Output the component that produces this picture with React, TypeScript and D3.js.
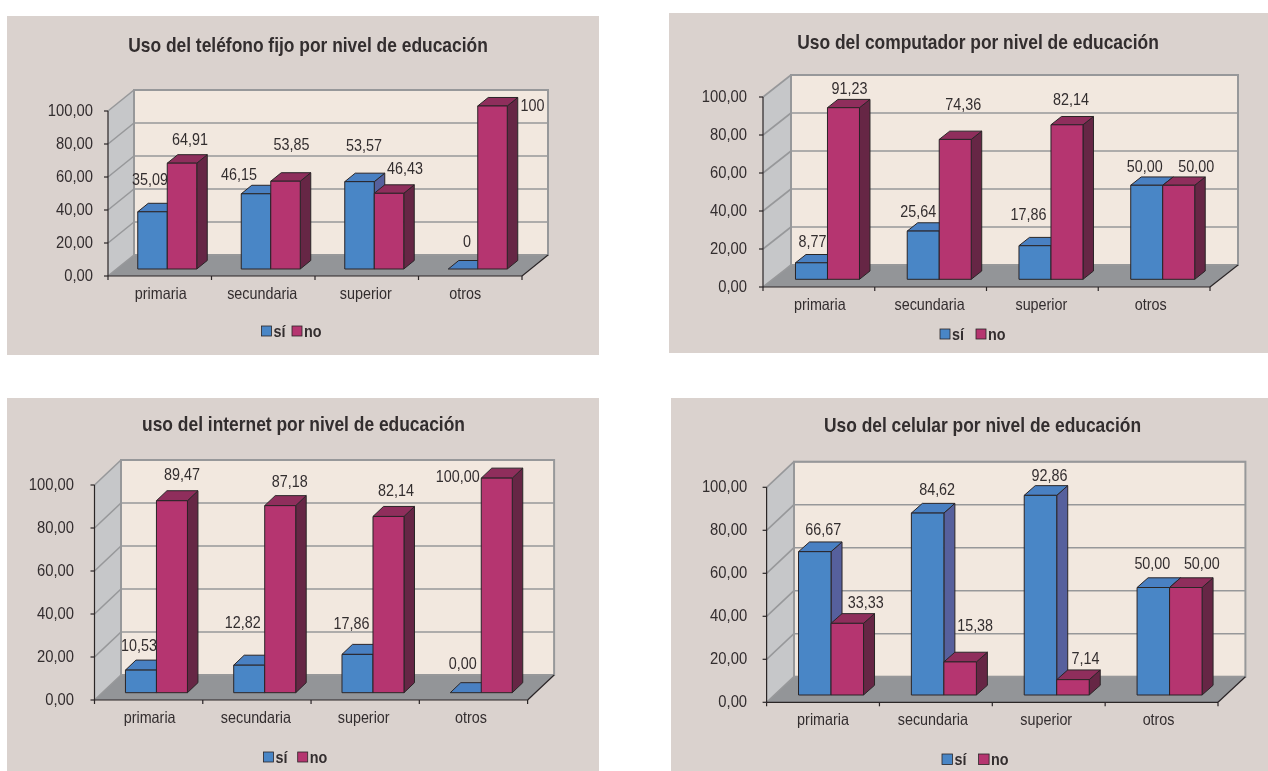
import React from "react";
import * as d3 from "d3";

const categories = ["primaria", "secundaria", "superior", "otros"];
const tickValues = [0, 20, 40, 60, 80, 100];

const telefonoSi = [35.09, 46.15, 53.57, 0];
const telefonoNo = [64.91, 53.85, 46.43, 100];
const computadorSi = [8.77, 25.64, 17.86, 50];
const computadorNo = [91.23, 74.36, 82.14, 50];
const internetSi = [10.53, 12.82, 17.86, 0];
const internetNo = [89.47, 87.18, 82.14, 100];
const celularSi = [66.67, 84.62, 92.86, 50];
const celularNo = [33.33, 15.38, 7.14, 50];

const telefonoNoLabels = ["64,91", "53,85", "46,43", "100"];
const telefonoSiLabels = ["35,09", "46,15", "53,57", "0"];
const fmt = (v: number) => d3.format(".2f")(v).replace(".", ",");

const C = {
  bg: "#dad2ce", wall: "#f2e8df", side: "#c6c7c9", floor: "#939598", grid: "#97989a",
  ink: "#2a2527", text: "#332d2f",
  blue: "#4a86c6", blueTop: "#4a80c2", blueSide: "#56619d",
  mag: "#b53470", magTop: "#8f2f5c", magSide: "#662745",
};

// layout of each panel
const panels = [
  {
    title: "Uso del teléfono fijo por nivel de educación", titleX: 308, titleY: 45,
    si: telefonoSi, no: telefonoNo, siLabels: telefonoSiLabels, noLabels: telefonoNoLabels,
    bg: [7, 16, 599, 355], left: 108, right: 522, y0: 276, y100: 111, depthX: 26, depthY: 21,
    offX: 7.5, offY: 7, barW: 29.5, topX: 10.5, topY: 8.5, barK: 0.988, tickGap: 15,
    catDx: [1, -1, -1, -5],
    siNudge: [[-2.5, -32], [-17, -19], [4.5, -35.6], [4, -28]],
    noNudge: [[8, -23], [6, -36], [16, -24], [40, 1]],
    legend: [261.5, 292, 326, 10],
  },
  {
    title: "Uso del computador por nivel de educación", titleX: 978, titleY: 42,
    si: computadorSi, no: computadorNo, siLabels: computadorSi.map(fmt), noLabels: computadorNo.map(fmt),
    bg: [669, 13, 1268, 353], left: 763, right: 1210, y0: 287, y100: 97, depthX: 28, depthY: 22,
    offX: 8.6, offY: 7.7, barW: 32, topX: 10.5, topY: 8.3, barK: 0.99, tickGap: 16,
    catDx: [1, -1, -1, -3.5],
    siNudge: [[1, -21.6], [-5, -19.6], [-6.5, -31], [-2, -18]],
    noNudge: [[6, -18], [8, -34], [4, -24], [17.5, -18]],
    legend: [940, 976, 329, 10],
  },
  {
    title: "uso del internet por nivel de educación", titleX: 303.5, titleY: 424,
    si: internetSi, no: internetNo, siLabels: internetSi.map(fmt), noLabels: internetNo.map(fmt),
    bg: [7, 398, 599, 771], left: 94.5, right: 527.6, y0: 700, y100: 485, depthX: 26.5, depthY: 25,
    offX: 7.8, offY: 7.3, barW: 31, topX: 10.5, topY: 10, barK: 0.998, tickGap: 20.5,
    catDx: [1, -1, -1.5, -2.5],
    siNudge: [[-2, -25], [-6.5, -43], [-6, -31], [-3, -30]],
    noNudge: [[10, -26], [9.5, -24], [7.5, -26], [-39, -2]],
    legend: [263.4, 297.7, 752, 10],
  },
  {
    title: "Uso del celular por nivel de educación", titleX: 982.5, titleY: 425,
    si: celularSi, no: celularNo, siLabels: celularSi.map(fmt), noLabels: celularNo.map(fmt),
    bg: [671, 398, 1268, 771], left: 766.6, right: 1218, y0: 702.3, y100: 487.3, depthX: 27.4, depthY: 25.6,
    offX: 8, offY: 7.3, barW: 32.5, topX: 11, topY: 9.7, barK: 1, tickGap: 19.5,
    catDx: [0, -3, -2.5, -3],
    siNudge: [[8.5, -23], [9.5, -24], [9, -20], [-1, -24.5]],
    noNudge: [[18.4, -21], [15, -37], [12.6, -22], [16, -24.5]],
    legend: [942, 978.6, 754, 10.5],
  },
];

const font = "'Liberation Sans', Arial, sans-serif";
const pts = (a: number[][]) => a.map((p) => p.join(",")).join(" ");

// the reference's type is slightly condensed
function T({ x, y, size, anchor = "middle", bold = false, sx = 0.87, children }: any) {
  return (
    <text
      transform={`translate(${x},${y}) scale(${sx},1)`}
      textAnchor={anchor}
      dominantBaseline="central"
      fontSize={size}
      fontWeight={bold ? "bold" : "normal"}
    >
      {children}
    </text>
  );
}

function Bar({ x, w, top, base, tx, ty, front, topC, sideC }: any) {
  return (
    <g stroke={C.ink} strokeWidth={1} strokeLinejoin="round">
      {top < base && (
        <polygon points={pts([[x + w, top], [x + w + tx, top - ty], [x + w + tx, base - ty], [x + w, base]])} fill={sideC} />
      )}
      <polygon points={pts([[x, top], [x + tx, top - ty], [x + w + tx, top - ty], [x + w, top]])} fill={topC} />
      {top < base && <rect x={x} y={top} width={w} height={base - top} fill={front} />}
    </g>
  );
}

function Panel({ p }: { p: (typeof panels)[number] }) {
  const y = d3.scaleLinear().domain([0, 100]).range([p.y0, p.y100]);
  const x = d3.scaleBand<string>().domain(categories).range([p.left, p.right]);
  const { left, right, y0, y100, depthX: dx, depthY: dy } = p;
  const [bx0, by0, bx1, by1] = p.bg;
  const [lx1, lx2, ly, ls] = p.legend;
  const edges = [...categories.map((c) => x(c)!), right];
  const centre = (c: string) => x(c)! + x.bandwidth() / 2;
  const barTop = (v: number) => y(0) - p.offY - (y(0) - y(v)) * p.barK;
  return (
    <g fontFamily={font} fill={C.text}>
      <rect x={bx0} y={by0} width={bx1 - bx0} height={by1 - by0} fill={C.bg} />
      <T x={p.titleX} y={p.titleY} size={19.5} bold sx={0.893}>{p.title}</T>
      {/* walls and floor */}
      <rect x={left + dx} y={y100 - dy} width={right - left} height={y0 - y100} fill={C.wall} />
      <polygon points={pts([[left, y0], [left, y100], [left + dx, y100 - dy], [left + dx, y0 - dy]])} fill={C.side} />
      <polygon points={pts([[left, y0], [right, y0], [right + dx, y0 - dy], [left + dx, y0 - dy]])} fill={C.floor} />
      {tickValues.map((t) => (
        <g key={t} stroke={C.grid} strokeWidth={1.6} fill="none">
          {t > 0 && <line x1={left} y1={y(t)} x2={left + dx} y2={y(t) - dy} />}
          {t > 0 && <line x1={left + dx} y1={y(t) - dy} x2={right + dx} y2={y(t) - dy} />}
        </g>
      ))}
      <rect x={left + dx} y={y100 - dy} width={right - left} height={y0 - y100} fill="none" stroke={C.grid} strokeWidth={2} />
      <line x1={left} y1={y0} x2={left + dx} y2={y0 - dy} stroke={C.grid} strokeWidth={1.6} />
      {/* axes */}
      <g stroke={C.ink} strokeWidth={1.2}>
        <line x1={left} y1={y100} x2={left} y2={y0} />
        <line x1={left} y1={y0} x2={right} y2={y0} />
        <line x1={right} y1={y0} x2={right + dx} y2={y0 - dy} />
        {tickValues.map((t) => (
          <line key={t} x1={left - 4} y1={y(t)} x2={left} y2={y(t)} />
        ))}
        {edges.map((e, i) => (
          <line key={i} x1={e} y1={y0} x2={e} y2={y0 + 4} />
        ))}
      </g>
      {tickValues.map((t) => (
        <T key={t} x={left - p.tickGap} y={y(t) - 1} size={17} anchor="end">{fmt(t)}</T>
      ))}
      {categories.map((c, i) => (
        <T key={c} x={centre(c) + p.catDx[i]} y={y0 + 17} size={16.5}>{c}</T>
      ))}
      {/* bars */}
      {categories.map((c, i) => {
        const mid = centre(c) + p.offX;
        const base = y(0) - p.offY;
        const common = { w: p.barW, base, tx: p.topX, ty: p.topY };
        return (
          <g key={c}>
            <Bar {...common} x={mid - p.barW} top={barTop(p.si[i])} front={C.blue} topC={C.blueTop} sideC={C.blueSide} />
            <Bar {...common} x={mid} top={barTop(p.no[i])} front={C.mag} topC={C.magTop} sideC={C.magSide} />
          </g>
        );
      })}
      {/* value labels */}
      {categories.map((c, i) => {
        const mid = centre(c) + p.offX;
        return (
          <g key={c}>
            <T x={mid - p.barW / 2 + p.siNudge[i][0]} y={y(p.si[i]) - p.offY + p.siNudge[i][1]} size={16.5}>{p.siLabels[i]}</T>
            <T x={mid + p.barW / 2 + p.noNudge[i][0]} y={y(p.no[i]) - p.offY + p.noNudge[i][1]} size={16.5}>{p.noLabels[i]}</T>
          </g>
        );
      })}
      {/* legend */}
      <rect x={lx1} y={ly} width={ls} height={ls} fill={C.blue} stroke={C.ink} strokeWidth={0.8} />
      <T x={lx1 + ls + 2} y={ly + ls / 2} size={16.5} anchor="start" bold>sí</T>
      <rect x={lx2} y={ly} width={ls} height={ls} fill={C.mag} stroke={C.ink} strokeWidth={0.8} />
      <T x={lx2 + ls + 2} y={ly + ls / 2} size={16.5} anchor="start" bold>no</T>
    </g>
  );
}

export default function App() {
  return (
    <svg
      width={1268}
      height={771}
      viewBox="0 0 1268 771"
      style={{ position: "absolute", left: 0, top: 0, background: "#fff" }}
    >
      <defs>
        <filter id="soft" x="0" y="0" width="100%" height="100%">
          <feGaussianBlur stdDeviation="0.35" />
        </filter>
      </defs>
      <g filter="url(#soft)">
        {panels.map((p) => (
          <Panel key={p.title} p={p} />
        ))}
      </g>
    </svg>
  );
}
